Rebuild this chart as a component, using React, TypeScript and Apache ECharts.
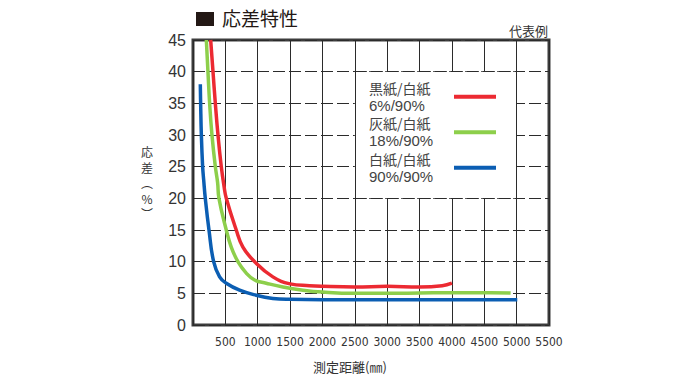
import React, { useEffect, useRef } from "react";
import * as echarts from "echarts";

// ---- data (distance mm, hysteresis %) ----
const blackPaper: [number, number][] = [
  [273, 45], [309, 40], [345, 35], [386, 30], [437, 25], [478, 22], [514, 20],
  [668, 15], [771, 12.3], [952, 10], [1234, 7.6], [1500, 6.5], [1800, 6.2],
  [2000, 6.1], [2500, 6.0], [3000, 6.1], [3500, 6.0], [3850, 6.2], [4000, 6.6],
];
const grayPaper: [number, number][] = [
  [206, 45], [231, 40], [257, 35], [293, 30], [345, 25], [380, 22.5], [401, 20],
  [514, 15], [591, 12.3], [694, 10], [823, 8.2], [952, 7.1], [1131, 6.6],
  [1389, 6.0], [1700, 5.5], [2000, 5.2], [2489, 5.0], [3055, 5.0], [3500, 5.05],
  [4084, 5.1], [4600, 5.1], [4907, 5.05],
];
const whitePaper: [number, number][] = [
  [113, 38], [118, 35], [129, 30], [149, 25], [165, 22.9], [190, 20], [247, 15],
  [319, 10], [411, 7.6], [514, 6.6], [720, 5.5], [977, 4.7], [1234, 4.2],
  [1500, 4.05], [2000, 4.0], [3000, 4.0], [4000, 4.0], [5010, 4.0],
];
const seriesNames = ["黒紙/白紙\n6%/90%", "灰紙/白紙\n18%/90%", "白紙/白紙\n90%/90%"];
const seriesColors = ["#ec2a32", "#8dcf4b", "#0b5eb3"];
const xRange = { min: 0, max: 5500, interval: 500 };
const yRange = { min: 0, max: 45, interval: 5 };
const legendBox = { x0: 2500, x1: 5000, y0: 20, y1: 40 };

const CJK = '"Noto Sans CJK JP", "Noto Sans", sans-serif';
const LATIN = '"Liberation Sans", Arial, sans-serif';

export default function App() {
  const ref = useRef<HTMLDivElement>(null);
  useEffect(() => {
    if (!ref.current) return;
    const chart = echarts.init(ref.current, null, { renderer: "svg" });
    const gridLine = { color: "#2b2b2b", width: 1, type: "solid" as any };
    const dashed = { color: "#2b2b2b", width: 1, type: [12, 4] as any };
    const datasets = [blackPaper, grayPaper, whitePaper];
    chart.setOption({
      animation: false,
      backgroundColor: "#fff",
      grid: {
        left: 193, right: 151, top: 40, bottom: 50,
        show: true, borderColor: "#3c3c3c", borderWidth: 3,
      },
      xAxis: {
        type: "value", min: xRange.min, max: xRange.max, interval: xRange.interval,
        axisLine: { show: false }, axisTick: { show: false },
        axisLabel: {
          showMinLabel: false, showMaxLabel: true, hideOverlap: false,
          formatter: (v: number) => String(v),
          color: "#333", fontSize: 12, margin: 11,
          fontFamily: '"Liberation Sans Narrow", "DejaVu Sans Condensed", ' + LATIN,
        },
        splitLine: { show: true, lineStyle: gridLine },
      },
      yAxis: {
        type: "value", min: yRange.min, max: yRange.max, interval: yRange.interval,
        axisLine: { show: false }, axisTick: { show: false },
        axisLabel: { color: "#333", fontSize: 16, margin: 7, fontFamily: LATIN },
        splitLine: { show: true, lineStyle: dashed },
      },
      legend: {
        left: 369, top: 81, orient: "vertical", align: "right", padding: 0,
        itemWidth: 42, itemHeight: 4, itemGap: 3.5, icon: "rect",
        selectedMode: false,
        data: seriesNames,
        formatter: (name: string) => {
          const [l1, l2] = name.split("\n");
          return `{a|${l1}}\n{b|${l2}}`;
        },
        textStyle: {
          color: "#444", fontSize: 14, fontFamily: CJK,
          rich: {
            a: { width: 80, align: "left", fontSize: 14, lineHeight: 17.5, color: "#444", fontFamily: CJK },
            b: { width: 80, align: "left", fontSize: 15, lineHeight: 17.5, color: "#444", fontFamily: LATIN },
          },
        },
      },
      series: datasets.map((d, i) => ({
        name: seriesNames[i],
        type: "line",
        data: d,
        symbol: "none",
        showSymbol: false,
        smooth: 0.45,
        color: seriesColors[i],
        itemStyle: { color: seriesColors[i] },
        lineStyle: { color: seriesColors[i], width: 3.5 },
        z: 3,
        ...(i === 0
          ? {
              markArea: {
                silent: true,
                itemStyle: { color: "#fff" },
                data: [[{ coord: [legendBox.x0, legendBox.y1] }, { coord: [legendBox.x1, legendBox.y0] }]],
              },
              markLine: {
                silent: true, symbol: "none", label: { show: false },
                lineStyle: gridLine,
                data: [
                  [{ coord: [legendBox.x0, legendBox.y0], lineStyle: gridLine }, { coord: [legendBox.x0, legendBox.y1] }],
                  [{ coord: [legendBox.x1, legendBox.y0], lineStyle: gridLine }, { coord: [legendBox.x1, legendBox.y1] }],
                  [{ coord: [legendBox.x0, legendBox.y1], lineStyle: dashed }, { coord: [legendBox.x1, legendBox.y1] }],
                  [{ coord: [legendBox.x0, legendBox.y0], lineStyle: dashed }, { coord: [legendBox.x1, legendBox.y0] }],
                ],
              },
            }
          : {}),
      })),
      graphic: [
        { type: "rect", left: 196, top: 12, shape: { width: 18, height: 14 }, style: { fill: "#231815" } },
        {
          type: "text", left: 222, top: 8,
          style: { text: "応差特性", fontSize: 19, fontFamily: CJK, fill: "#231815" },
        },
        {
          type: "text", right: 152, top: 24,
          style: { text: "代表例", fontSize: 13, fontFamily: CJK, fill: "#333" },
        },
        {
          type: "text", x: 147, y: 144,
          style: {
            text: "応\n差\n︵\n%\n︶", fontSize: 12, lineHeight: 15.5,
            fontFamily: CJK, fill: "#333", align: "center", verticalAlign: "top",
          },
        },
        {
          type: "text", x: 350, y: 366,
          style: {
            text: "測定距離(㎜)", fontSize: 13, fontFamily: CJK, fill: "#333",
            align: "center", verticalAlign: "middle",
          },
        },
      ],
    });
    return () => chart.dispose();
  }, []);
  return <div ref={ref} style={{ position: "absolute", left: 0, top: 0, width: 700, height: 375 }} />;
}
